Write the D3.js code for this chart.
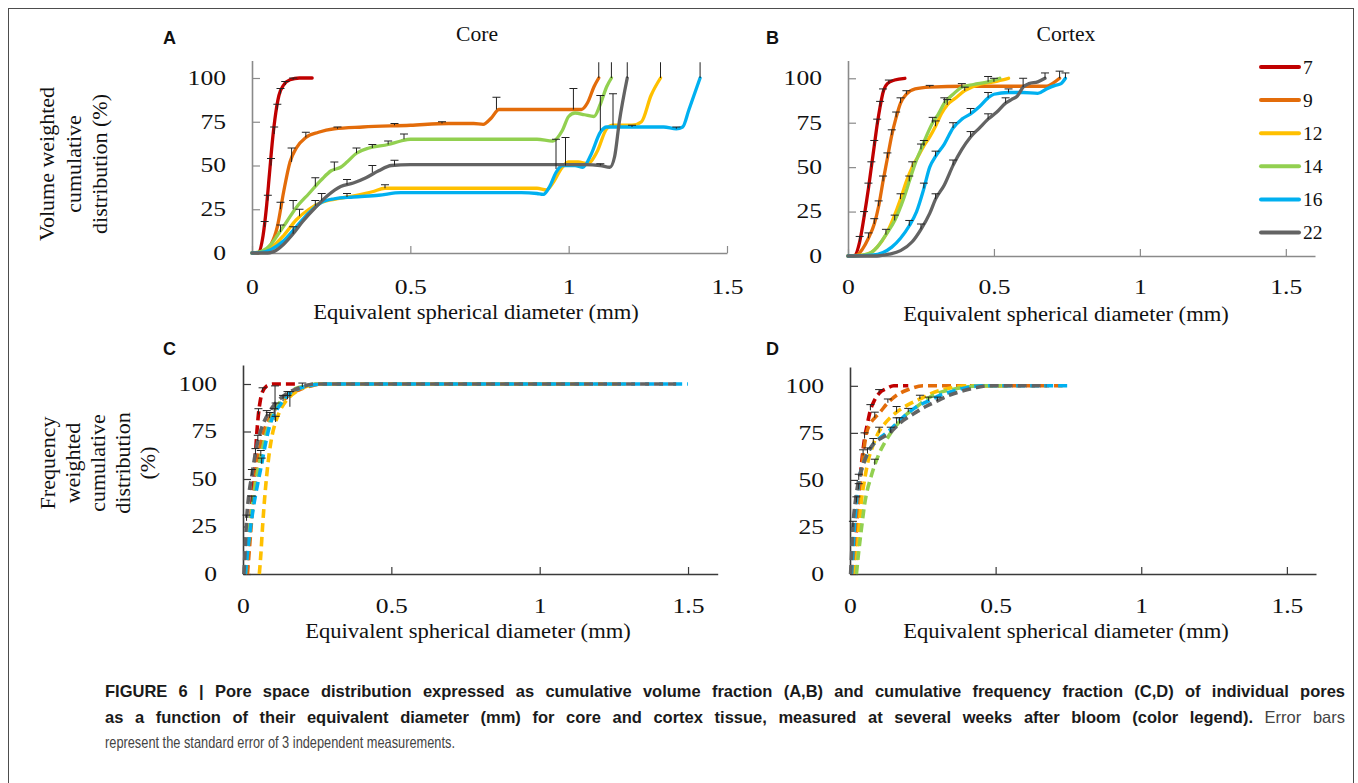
<!DOCTYPE html>
<html><head><meta charset="utf-8">
<script src="https://cdn.jsdelivr.net/npm/d3@7"></script>
<style>
body{margin:0;background:#fff}
svg{display:block}
</style>
</head><body>
<svg id="c" width="1358" height="783"></svg>
<script>
// ---------- DATA ----------
const weeks = ["7","9","12","14","16","22"];
const seriesColors = ["#C00000","#E36C0A","#FFC000","#92D050","#00B0F0","#636363"];
const xTicks = [0,0.5,1,1.5];
const yTicks = [0,25,50,75,100];
const panelTitles = ["Core","Cortex"];

// Panel A: core, volume weighted  [diameter mm, cumulative %]
const coreVol7  = [[0,0],[0.02,0],[0.035,10],[0.045,25],[0.055,45],[0.065,65],[0.075,80],[0.085,90],[0.1,96],[0.12,99],[0.15,100],[0.19,100]];
const coreVol9  = [[0,0],[0.03,0.5],[0.06,5],[0.08,15],[0.1,35],[0.12,52],[0.14,60],[0.17,66],[0.21,69],[0.26,71],[0.35,72],[0.5,73],[0.62,74],[0.7,74],[0.73,73.5],[0.755,77],[0.78,82],[0.85,82],[1.0,82],[1.04,82],[1.06,86],[1.08,95],[1.095,100]];
const coreVol12 = [[0,0],[0.03,0.5],[0.06,3],[0.1,10],[0.14,19],[0.18,25],[0.22,29],[0.27,31],[0.33,33],[0.38,35],[0.42,37],[0.5,37],[0.7,37],[0.9,37],[0.93,36],[0.95,40],[0.98,49],[1.0,52],[1.03,52],[1.06,51],[1.09,58],[1.12,71],[1.14,73],[1.2,73],[1.23,75],[1.26,90],[1.29,100]];
const coreVol14 = [[0,0],[0.03,1],[0.06,5],[0.08,10],[0.11,18],[0.14,26],[0.18,34],[0.22,42],[0.25,47],[0.28,49],[0.3,52],[0.33,57],[0.37,60],[0.43,62],[0.47,64],[0.5,65],[0.7,65],[0.9,65],[0.95,64],[0.98,70],[1.0,78],[1.02,80],[1.05,79],[1.08,78],[1.1,85],[1.12,95],[1.135,100]];
const coreVol16 = [[0,0],[0.03,0.3],[0.06,2],[0.1,7],[0.14,15],[0.18,23],[0.22,29],[0.26,31],[0.32,32],[0.4,33],[0.47,34.5],[0.6,34.5],[0.85,34.5],[0.9,34],[0.92,33.5],[0.94,38],[0.96,46],[0.98,50],[1.02,50],[1.045,49],[1.07,56],[1.1,69],[1.12,72],[1.2,72],[1.3,72],[1.34,71],[1.36,72],[1.38,82],[1.415,100]];
const coreVol22 = [[0,0],[0.05,0],[0.08,2],[0.1,5],[0.13,11],[0.16,18],[0.2,26],[0.24,33],[0.28,38],[0.32,40],[0.36,43],[0.4,47],[0.44,50],[0.5,50.5],[0.8,50.5],[1.05,50.5],[1.1,50],[1.13,49],[1.145,55],[1.16,75],[1.185,100]];
// error bars [diameter, value, +SE]
const coreVolErr7  = [[0.04,15,3],[0.05,30,3],[0.06,50,4],[0.07,68,4],[0.08,82,3],[0.09,91,3],[0.105,96,2],[0.13,99,1]];
const coreVolErr9  = [[0.09,25,4],[0.125,52,8],[0.17,66,3],[0.27,71,1],[0.45,73,1],[0.6,74,1],[0.772,82,7],[1.015,82,12],[1.095,100,10]];
const coreVolErr12 = [[0.15,21,4],[0.2,27,3],[0.3,32,2],[0.42,37,2],[0.96,48,17],[1.14,73,18],[1.29,100,10]];
const coreVolErr14 = [[0.09,12,4],[0.13,25,5],[0.2,38,5],[0.26,47,5],[0.33,57,3],[0.38,60,2],[0.43,62,2],[0.48,65,3],[1.135,100,10]];
const coreVolErr16 = [[0.99,50,16],[1.1,70,20],[1.2,72,1],[1.34,71,1],[1.415,100,10]];
const coreVolErr22 = [[0.13,11,4],[0.22,30,4],[0.3,39,3],[0.38,46,4],[0.45,50,3],[1.1,50,1],[1.185,100,10]];

// Panel B: cortex, volume weighted
const cortVol7  = [[0,0],[0.02,0],[0.04,8],[0.055,22],[0.07,38],[0.08,50],[0.09,62],[0.1,74],[0.11,84],[0.12,92],[0.135,97],[0.16,99],[0.195,100]];
const cortVol9  = [[0,0],[0.03,0.5],[0.05,4],[0.07,10],[0.09,18],[0.105,28],[0.12,42],[0.135,55],[0.15,68],[0.165,78],[0.18,86],[0.2,91],[0.23,94],[0.28,95],[0.4,95.5],[0.55,95.5],[0.68,95.5],[0.7,97],[0.725,100]];
const cortVol12 = [[0,0],[0.05,0.5],[0.08,2],[0.1,5],[0.13,12],[0.155,21],[0.18,32],[0.2,42],[0.22,50],[0.24,56],[0.26,62],[0.28,67],[0.3,73],[0.32,80],[0.34,85],[0.37,89],[0.4,93],[0.44,96],[0.5,98],[0.55,100]];
const cortVol14 = [[0,0],[0.05,0.5],[0.08,2],[0.1,5],[0.13,12],[0.16,20],[0.19,32],[0.21,42],[0.23,52],[0.25,60],[0.27,68],[0.29,75],[0.31,80],[0.33,86],[0.36,91],[0.39,95],[0.43,96.5],[0.48,98],[0.52,100]];
const cortVol16 = [[0,0],[0.08,0.5],[0.12,2],[0.15,5],[0.18,10],[0.21,17],[0.235,25],[0.26,38],[0.28,50],[0.3,56],[0.33,63],[0.36,72],[0.39,77],[0.42,80],[0.45,84],[0.48,89],[0.5,91],[0.55,92],[0.6,92],[0.65,91.5],[0.68,94],[0.71,96],[0.73,97],[0.745,100]];
const cortVol22 = [[0,0],[0.1,0],[0.14,1],[0.18,3],[0.22,8],[0.25,15],[0.28,24],[0.3,32],[0.33,40],[0.36,51],[0.39,60],[0.42,67],[0.45,72],[0.48,77],[0.51,81],[0.54,86],[0.56,88],[0.58,90],[0.6,95],[0.62,97],[0.65,98],[0.675,100]];
const cortVolErr7  = [[0.04,8,3],[0.055,22,3],[0.07,38,3],[0.08,50,3],[0.09,62,3],[0.1,74,3],[0.11,84,3],[0.12,92,2],[0.14,97,2]];
const cortVolErr9  = [[0.07,10,3],[0.09,18,3],[0.105,28,3],[0.12,42,3],[0.135,55,3],[0.15,68,3],[0.165,78,3],[0.18,86,3],[0.2,91,2],[0.28,95,1],[0.725,100,4]];
const cortVolErr12 = [[0.13,12,3],[0.18,32,3],[0.22,50,3],[0.26,62,3],[0.3,73,3],[0.34,85,3],[0.4,93,2],[0.5,98,2]];
const cortVolErr14 = [[0.16,20,3],[0.21,42,3],[0.25,60,3],[0.29,75,3],[0.33,86,3],[0.39,95,2],[0.48,98,3]];
const cortVolErr16 = [[0.21,17,3],[0.26,38,3],[0.3,56,3],[0.36,72,3],[0.42,80,3],[0.48,89,3],[0.55,92,2],[0.745,100,3]];
const cortVolErr22 = [[0.25,15,3],[0.3,32,3],[0.36,51,3],[0.42,67,3],[0.48,77,3],[0.54,86,3],[0.6,95,5],[0.675,100,3]];

// Panel C: core, frequency weighted
const coreFreq7  = [[0.012,0],[0.018,12],[0.024,25],[0.03,38],[0.037,50],[0.042,63],[0.047,75],[0.052,84],[0.058,91],[0.066,96],[0.08,99],[0.1,100],[0.19,100]];
const coreFreq9  = [[0.015,0],[0.025,20],[0.035,40],[0.045,55],[0.055,65],[0.07,75],[0.09,82],[0.11,87],[0.135,91],[0.16,95],[0.19,97],[0.23,99],[0.27,100],[1.1,100]];
const coreFreq12 = [[0.055,0],[0.06,10],[0.066,25],[0.073,40],[0.08,52],[0.088,63],[0.097,72],[0.11,80],[0.125,86],[0.15,92],[0.18,96],[0.21,98.5],[0.25,100],[1.29,100]];
const coreFreq14 = [[0.008,0],[0.02,20],[0.03,35],[0.045,50],[0.06,62],[0.075,72],[0.09,80],[0.11,87],[0.14,93],[0.17,97],[0.21,99],[0.26,100],[1.14,100]];
const coreFreq16 = [[0.008,0],[0.02,18],[0.035,35],[0.05,48],[0.063,58],[0.075,68],[0.088,77],[0.105,84],[0.125,89],[0.15,94],[0.18,97],[0.22,99],[0.27,100],[1.5,100]];
const coreFreq22 = [[0.003,0],[0.008,15],[0.012,28],[0.02,42],[0.03,52],[0.04,62],[0.05,70],[0.063,77],[0.08,83],[0.1,88],[0.13,93],[0.16,96],[0.2,98.5],[0.24,100],[1.46,100]];
const coreFreqErr7  = [[0.03,38,3],[0.042,63,3],[0.052,84,3],[0.066,96,2]];
const coreFreqErr9  = [[0.09,82,3],[0.135,91,3]];
const coreFreqErr12 = [[0.11,80,3],[0.15,92,2]];
const coreFreqErr14 = [[0.06,62,3],[0.11,87,3]];
const coreFreqErr16 = [[0.063,58,3],[0.105,84,3],[0.15,94,2]];
const coreFreqErr22 = [[0.012,28,3],[0.03,52,3],[0.05,70,3],[0.08,83,3],[0.108,81,18],[0.158,88,8],[0.2,98.5,2]];

// Panel D: cortex, frequency weighted
const cortFreq7  = [[0.008,0],[0.015,12],[0.023,25],[0.028,38],[0.034,50],[0.042,62],[0.05,72],[0.06,80],[0.07,87],[0.08,91],[0.1,96],[0.125,98.5],[0.15,100],[0.2,100]];
const cortFreq9  = [[0.01,0],[0.018,15],[0.025,30],[0.036,50],[0.045,63],[0.057,75],[0.07,80],[0.085,83],[0.103,86],[0.13,91],[0.16,95],[0.2,98],[0.25,100],[0.73,100]];
const cortFreq12 = [[0.018,0],[0.025,12],[0.032,27],[0.04,40],[0.05,50],[0.062,60],[0.078,68],[0.097,75],[0.12,80],[0.16,86],[0.2,90],[0.24,93],[0.28,96],[0.32,98],[0.4,100],[0.55,100]];
const cortFreq14 = [[0.022,0],[0.03,12],[0.04,25],[0.05,37],[0.06,45],[0.069,50],[0.085,58],[0.103,65],[0.12,70],[0.14,75],[0.165,80],[0.195,85],[0.23,89],[0.263,93],[0.3,96],[0.35,98],[0.45,100],[0.52,100]];
const cortFreq16 = [[0.005,0],[0.01,12],[0.015,25],[0.022,38],[0.031,50],[0.045,58],[0.06,64],[0.08,69],[0.1,72],[0.126,75],[0.16,80],[0.195,85],[0.23,89],[0.27,92],[0.31,95],[0.35,97],[0.4,99],[0.45,100],[0.755,100]];
const cortFreq22 = [[0.002,0],[0.006,12],[0.01,25],[0.018,38],[0.03,50],[0.045,58],[0.06,64],[0.08,69],[0.105,72],[0.137,75],[0.17,80],[0.217,85],[0.26,89],[0.3,92],[0.34,95],[0.38,97],[0.43,99],[0.47,100],[0.675,100]];
const cortFreqErr7  = [[0.03,45,3],[0.05,72,3],[0.07,87,3],[0.1,96,2]];
const cortFreqErr9  = [[0.045,63,3],[0.085,83,3],[0.13,91,2]];
const cortFreqErr12 = [[0.1,75,3],[0.16,86,3],[0.24,93,2]];
const cortFreqErr14 = [[0.085,58,3],[0.14,75,3],[0.2,86,2]];
const cortFreqErr16 = [[0.022,38,3],[0.06,64,3],[0.16,80,3],[0.27,92,2]];
const cortFreqErr22 = [[0.01,25,3],[0.03,50,3],[0.08,69,3],[0.17,80,3],[0.3,92,2]];

const captionLine1 = "FIGURE 6 | Pore space distribution expressed as cumulative volume fraction (A,B) and cumulative frequency fraction (C,D) of individual pores";
const captionLine2Bold = "as a function of their equivalent diameter (mm) for core and cortex tissue, measured at several weeks after bloom (color legend).";
const captionLine2Reg = " Error bars";
const captionLine3 = "represent the standard error of 3 independent measurements.";

// ---------- DRAWING ----------
const svg = d3.select("#c");
const SERIF = "'Liberation Serif','Times New Roman',serif";
const SANS = "'Liberation Sans',Arial,sans-serif";

svg.append("rect").attr("x",8.5).attr("y",8.5).attr("width",1345).attr("height",800)
  .attr("fill","none").attr("stroke","#4d4d4d").attr("stroke-width",1);

const panels = [
  {letter:"A", lx:163, ly:44, series:[coreVol7,coreVol9,coreVol12,coreVol14,coreVol16,coreVol22],
   errs:[coreVolErr7,coreVolErr9,coreVolErr12,coreVolErr14,coreVolErr16,coreVolErr22],
   xMax:1.5, x0:252, x1:727, y0:253, y1:60.5, xPad:27, axisColor:"#8a8a8a", dashed:false, titleX:476, titleY:319},
  {letter:"B", lx:766, ly:44, series:[cortVol7,cortVol9,cortVol12,cortVol14,cortVol16,cortVol22],
   errs:[cortVolErr7,cortVolErr9,cortVolErr12,cortVolErr14,cortVolErr16,cortVolErr22],
   xMax:1.6, x0:848, x1:1315, y0:256, y1:60.5, xPad:24, axisColor:"#8a8a8a", dashed:false, titleX:1066, titleY:321},
  {letter:"C", lx:163, ly:355, series:[coreFreq7,coreFreq9,coreFreq12,coreFreq14,coreFreq16,coreFreq22],
   errs:[coreFreqErr7,coreFreqErr9,coreFreqErr12,coreFreqErr14,coreFreqErr16,coreFreqErr22],
   xMax:1.6, x0:243, x1:717.7, y0:574, y1:365, xPad:25, axisColor:"#3a3a3a", dashed:true, titleX:468, titleY:638},
  {letter:"D", lx:766, ly:355, series:[cortFreq7,cortFreq9,cortFreq12,cortFreq14,cortFreq16,cortFreq22],
   errs:[cortFreqErr7,cortFreqErr9,cortFreqErr12,cortFreqErr14,cortFreqErr16,cortFreqErr22],
   xMax:1.6, x0:850, x1:1316, y0:574, y1:367, xPad:25, axisColor:"#3a3a3a", dashed:true, titleX:1066, titleY:638}
];

function stretch(sel, k){
  sel.each(function(){
    const w = this.getComputedTextLength();
    d3.select(this).attr("textLength", w*k).attr("lengthAdjust","spacingAndGlyphs");
  });
}
function serifText(parent, txt, size, k){
  const t = parent.append("text").attr("font-family",SERIF).attr("font-size",size).attr("fill","#111").text(txt);
  stretch(t,k);
  return t;
}

panels.forEach(p=>{
  const x = d3.scaleLinear().domain([0,p.xMax]).range([p.x0,p.x1]);
  const y = d3.scaleLinear().domain([0,110]).range([p.y0,p.y1]);
  const g = svg.append("g");

  const ax = g.append("g").attr("transform",`translate(0,${p.y0})`)
    .call(d3.axisBottom(x).tickValues(xTicks).tickFormat(d3.format("~g")).tickSizeInner(-7).tickSizeOuter(0).tickPadding(p.xPad));
  const ay = g.append("g").attr("transform",`translate(${p.x0},0)`)
    .call(d3.axisLeft(y).tickValues(yTicks).tickSizeInner(-8).tickSizeOuter(0).tickPadding(26));
  [ax,ay].forEach(a=>{
    a.attr("font-family",null).attr("font-size",null);
    a.select(".domain").attr("stroke",p.axisColor).attr("stroke-width",1.6);
    a.selectAll(".tick line").attr("stroke",p.axisColor).attr("stroke-width",1.2);
    a.selectAll(".tick text").attr("font-family",SERIF).attr("font-size",20).attr("fill","#111");
    stretch(a.selectAll(".tick text"),1.28);
  });

  const line = d3.line().x(d=>x(d[0])).y(d=>y(d[1])).curve(d3.curveMonotoneX);
  p.series.forEach((s,i)=>{
    g.append("path").datum(s).attr("d",line).attr("fill","none")
      .attr("stroke",seriesColors[i]).attr("stroke-width",p.dashed?3.6:3.3)
      .attr("stroke-linejoin","round").attr("stroke-linecap",p.dashed?"butt":"round")
      .attr("stroke-dasharray",p.dashed?"9,5":null);
  });
  p.errs.forEach((e,i)=>{
    const eg = g.append("g").attr("stroke","#222").attr("stroke-width",1);
    eg.selectAll("line.v").data(e).join("line").attr("class","v")
      .attr("x1",d=>x(d[0])).attr("x2",d=>x(d[0])).attr("y1",d=>y(d[1])).attr("y2",d=>y(Math.min(d[1]+d[2],109)));
    eg.selectAll("line.c").data(e.filter(d=>d[1]+d[2]<108)).join("line").attr("class","c")
      .attr("x1",d=>x(d[0])-4).attr("x2",d=>x(d[0])+4).attr("y1",d=>y(d[1]+d[2])).attr("y2",d=>y(d[1]+d[2]));
  });

  svg.append("text").attr("x",p.lx).attr("y",p.ly).text(p.letter)
    .attr("font-family",SANS).attr("font-weight","bold").attr("font-size",18).attr("fill","#111");
  serifText(svg, "Equivalent spherical diameter (mm)", 20, 1.13)
    .attr("x",p.titleX).attr("y",p.titleY).attr("text-anchor","middle");
});

// panel titles
serifText(svg, panelTitles[0], 20, 1.08).attr("x",477).attr("y",41).attr("text-anchor","middle");
serifText(svg, panelTitles[1], 20, 1.08).attr("x",1066).attr("y",41).attr("text-anchor","middle");

// y-axis titles (rotated, multi-line)
function yTitle(lines, cx, cy, gap){
  lines.forEach((t,i)=>{
    const bx = cx + i*gap;
    serifText(svg, t, 20, 1.1).attr("transform",`translate(${bx},${cy}) rotate(-90)`).attr("text-anchor","middle");
  });
}
yTitle(["Volume weighted","cumulative","distribution (%)"], 54, 164, 26.5);
yTitle(["Frequency","weighted","cumulative","distribution","(%)"], 55, 463, 25);

// legend
const legend = svg.append("g");
weeks.forEach((w,i)=>{
  const yy = 67 + i*33.1;
  legend.append("line").attr("x1",1261).attr("x2",1299).attr("y1",yy).attr("y2",yy)
    .attr("stroke",seriesColors[i]).attr("stroke-width",4).attr("stroke-linecap","round");
  legend.append("text").attr("x",1303).attr("y",yy+6.5).attr("font-family",SERIF).attr("font-size",19.5).attr("fill","#111").text(w);
});

// caption (justified lines)
const cap = svg.append("g").attr("font-family",SANS).attr("font-size",16.5);
function justify(t, target){
  // condense glyphs slightly like the original narrow face, then spread words
  const w0 = t.node().getComputedTextLength();
  const squeezed = w0*0.93;
  if (squeezed < target) {
    const spaces = (t.text().match(/ /g)||[]).length;
    t.attr("word-spacing", ((target-w0)/Math.max(spaces,1)).toFixed(2));
  }
  t.attr("textLength",target).attr("lengthAdjust","spacingAndGlyphs");
}
const l1 = cap.append("text").attr("x",105).attr("y",697).attr("font-weight","bold").attr("fill","#1a1a1a").text(captionLine1);
justify(l1,1240);
const l2 = cap.append("text").attr("x",105).attr("y",723);
l2.append("tspan").attr("font-weight","bold").attr("fill","#1a1a1a").text(captionLine2Bold);
l2.append("tspan").attr("fill","#444").text(captionLine2Reg);
justify(l2,1240);
const l3 = cap.append("text").attr("x",105).attr("y",748).attr("fill","#444").text(captionLine3);
l3.attr("textLength",350).attr("lengthAdjust","spacingAndGlyphs");
</script>
</body></html>
